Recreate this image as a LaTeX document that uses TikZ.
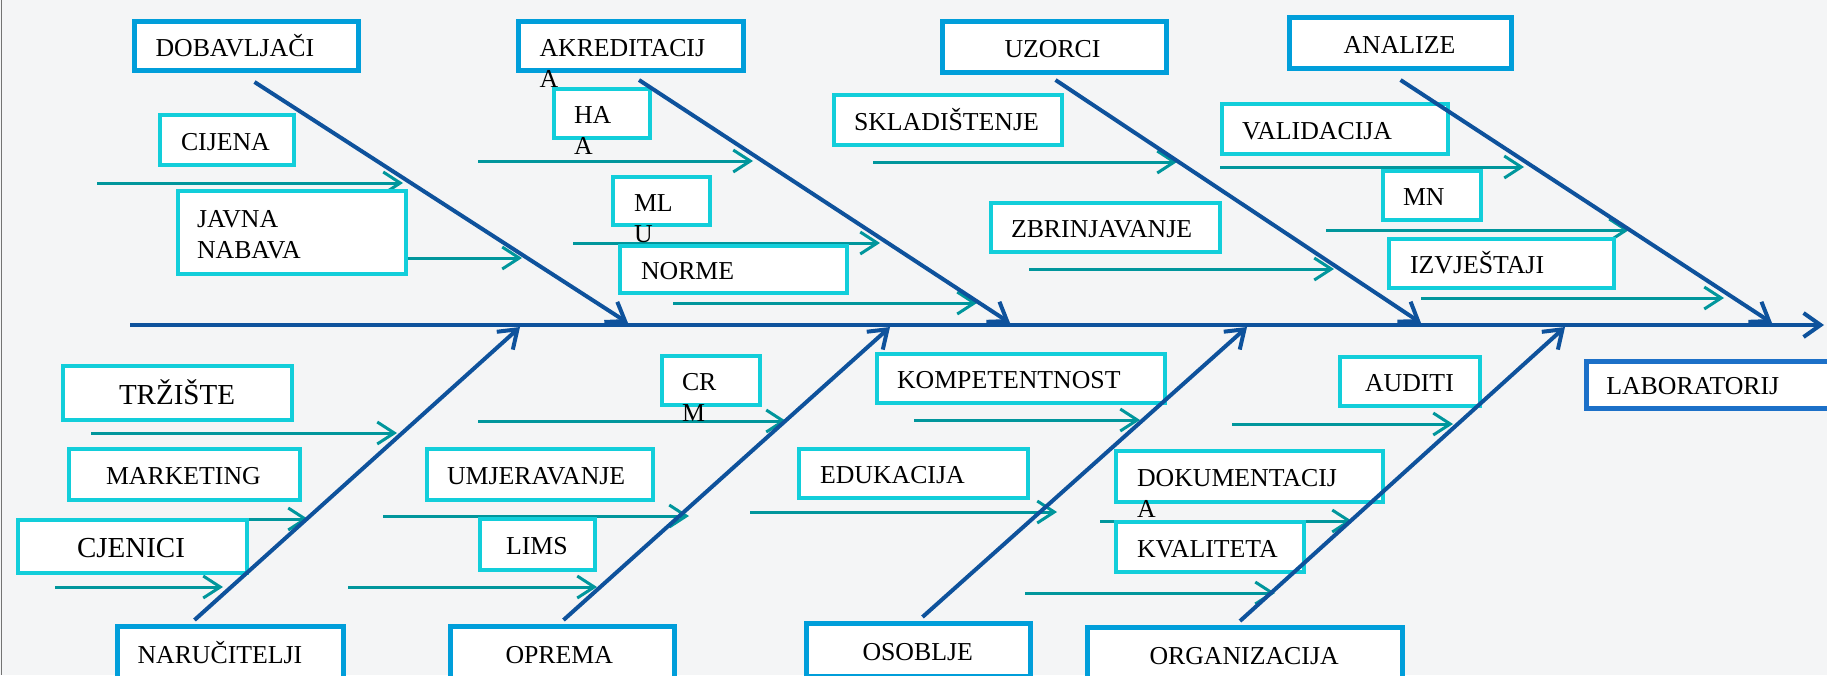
\documentclass[tikz,border=0pt]{standalone}
\usepackage{fontspec}
\setmainfont{Liberation Serif}
\usepackage{tikz}
\usetikzlibrary{arrows.meta}
\definecolor{bggray}{RGB}{244,245,246}
\definecolor{catblue}{RGB}{0,158,218}
\definecolor{labblue}{RGB}{28,112,200}
\definecolor{subcyan}{RGB}{18,206,218}
\definecolor{twigteal}{RGB}{0,150,156}
\definecolor{bonecol}{RGB}{14,82,156}
\newcommand{\labfont}{\fontsize{25.8pt}{31pt}\selectfont}
\newcommand{\bigfont}{\fontsize{29pt}{35pt}\selectfont}
\newcommand{\spill}[2]{\rlap{\smash{\raisebox{-31pt}{#2}}}#1}
\hyphenpenalty=10000

\tikzset{
  catbox/.style={draw=catblue, line width=5pt, fill=white, anchor=north west, inner ysep=0pt, align=left, text height=20pt, text depth=0pt, font=\labfont},
  subbox/.style={draw=subcyan, line width=4pt, fill=white, anchor=north west, inner ysep=0pt, align=left, text height=20pt, text depth=0pt, font=\labfont},
  bone/.style={draw=bonecol, line width=4pt, -{Straight Barb[length=17pt,width=24pt]}},
  twig/.style={draw=twigteal, line width=3pt, -{Straight Barb[length=17pt,width=22pt]}}
}

\begin{document}
\begin{tikzpicture}[x=1pt, y=-1pt]
    \useasboundingbox (0,0) rectangle (1827,675);
    \fill[bggray] (0,0) rectangle (1827,675);
    \draw[black!55, line width=1.5pt] (1.5,0) -- (1.5,675);

    % Twig ends
    \coordinate (cij1) at (97,183);    \coordinate (cij2) at (403,183);
    \coordinate (jav1) at (406,258);   \coordinate (jav2) at (522,258);
    \coordinate (ha1) at (478,161);    \coordinate (ha2) at (753,161);
    \coordinate (ml1) at (573,243);    \coordinate (ml2) at (880,243);
    \coordinate (nor1) at (673,303);   \coordinate (nor2) at (977,303);
    \coordinate (skl1) at (873,162);   \coordinate (skl2) at (1177,162);
    \coordinate (zbr1) at (1029,269);  \coordinate (zbr2) at (1334,269);
    \coordinate (val1) at (1220,167);  \coordinate (val2) at (1524,167);
    \coordinate (mn1) at (1326,230);   \coordinate (mn2) at (1629,230);
    \coordinate (izv1) at (1421,298);  \coordinate (izv2) at (1724,298);
    \coordinate (trz1) at (91,433);    \coordinate (trz2) at (397,433);
    \coordinate (mar1) at (91,519);    \coordinate (mar2) at (308,519);
    \coordinate (cje1) at (55,587);    \coordinate (cje2) at (223,587);
    \coordinate (crm1) at (478,421);   \coordinate (crm2) at (786,421);
    \coordinate (umj1) at (383,516);   \coordinate (umj2) at (689,516);
    \coordinate (lim1) at (348,587);   \coordinate (lim2) at (597,587);
    \coordinate (kom1) at (914,420);   \coordinate (kom2) at (1140,420);
    \coordinate (edu1) at (750,512);   \coordinate (edu2) at (1057,512);
    \coordinate (dok1) at (1100,521);  \coordinate (dok2) at (1352,521);
    \coordinate (kva1) at (1025,593);  \coordinate (kva2) at (1275,593);
    \coordinate (aud1) at (1232,424);  \coordinate (aud2) at (1453,424);

    % Twigs
    \draw[twig] (cij1) -- (cij2);
    \draw[twig] (jav1) -- (jav2);
    \draw[twig] (ha1) -- (ha2);
    \draw[twig] (ml1) -- (ml2);
    \draw[twig] (nor1) -- (nor2);
    \draw[twig] (skl1) -- (skl2);
    \draw[twig] (zbr1) -- (zbr2);
    \draw[twig] (val1) -- (val2);
    \draw[twig] (mn1) -- (mn2);
    \draw[twig] (izv1) -- (izv2);
    \draw[twig] (trz1) -- (trz2);
    \draw[twig] (mar1) -- (mar2);
    \draw[twig] (cje1) -- (cje2);
    \draw[twig] (crm1) -- (crm2);
    \draw[twig] (umj1) -- (umj2);
    \draw[twig] (lim1) -- (lim2);
    \draw[twig] (kom1) -- (kom2);
    \draw[twig] (edu1) -- (edu2);
    \draw[twig] (dok1) -- (dok2);
    \draw[twig] (kva1) -- (kva2);
    \draw[twig] (aud1) -- (aud2);

    % Categories (top)
    \node[catbox, text width=182pt, inner xsep=21pt, minimum height=49pt] (dob) at (132,19) {DOBAVLJAČI};
    \node[catbox, text width=183pt, inner xsep=21pt, minimum height=49pt] (akr) at (516,19) {\spill{AKREDITACIJ}{A}};
    \node[catbox, text width=100pt, inner xsep=62pt, minimum height=51pt] (uzo) at (940,19) {UZORCI};
    \node[catbox, text width=114pt, inner xsep=54pt, minimum height=51pt] (ana) at (1287,15) {ANALIZE};

    % Categories (bottom)
    \node[catbox, text width=186pt, inner xsep=20pt, minimum height=53pt] (nar) at (115,624) {NARUČITELJI};
    \node[catbox, text width=114pt, inner xsep=55pt, minimum height=53pt] (opr) at (448,624) {OPREMA};
    \node[catbox, text width=112pt, inner xsep=56pt, minimum height=53pt] (oso) at (804,621) {OSOBLJE};
    \node[catbox, text width=191pt, inner xsep=62pt, minimum height=53pt] (org) at (1085,625) {ORGANIZACIJA};

    % Effect
    \node[catbox, draw=labblue, line width=4.5pt, text width=260pt, inner xsep=20pt, minimum height=47pt] (lab) at (1584,359) {LABORATORIJ};

    % Sub-causes (top)
    \node[subbox, text width=92pt, inner xsep=21pt, minimum height=50pt] (cij) at (158,113) {CIJENA};
    \node[subbox, text width=190pt, inner xsep=19pt, minimum height=83pt, text depth=31pt] (jav) at (176,189) {JAVNA\\NABAVA};
    \node[subbox, text width=56pt, inner xsep=20pt, minimum height=49pt] (ha) at (552,87) {\spill{HA}{A}};
    \node[subbox, text width=55pt, inner xsep=21pt, minimum height=48pt] (ml) at (611,175) {\spill{ML}{U}};
    \node[subbox, text width=185pt, inner xsep=21pt, minimum height=47pt] (nor) at (618,244) {NORME};
    \node[subbox, text width=188pt, inner xsep=20pt, minimum height=50pt] (skl) at (832,93) {SKLADIŠTENJE};
    \node[subbox, text width=189pt, inner xsep=20pt, minimum height=49pt] (zbr) at (989,201) {ZBRINJAVANJE};
    \node[subbox, text width=186pt, inner xsep=20pt, minimum height=50pt] (val) at (1220,102) {VALIDACIJA};
    \node[subbox, text width=58pt, inner xsep=20pt, minimum height=49pt] (mn) at (1381,169) {MN};
    \node[subbox, text width=183pt, inner xsep=21pt, minimum height=49pt] (izv) at (1387,237) {IZVJEŠTAJI};

    % Sub-causes (bottom)
    \node[subbox, font=\bigfont, text height=22pt, text width=117pt, inner xsep=56pt, minimum height=54pt] (trz) at (61,364) {TRŽIŠTE};
    \node[subbox, text width=157pt, inner xsep=37pt, minimum height=51pt] (mar) at (67,447) {MARKETING};
    \node[subbox, font=\bigfont, text height=22pt, text width=111pt, inner xsep=59pt, minimum height=53pt] (cje) at (16,518) {CJENICI};
    \node[subbox, text width=186pt, inner xsep=20pt, minimum height=51pt] (umj) at (425,447) {UMJERAVANJE};
    \node[subbox, text width=63pt, inner xsep=26pt, minimum height=51pt] (lim) at (478,517) {LIMS};
    \node[subbox, text width=58pt, inner xsep=20pt, minimum height=49pt] (crm) at (660,354) {\spill{CR}{M}};
    \node[subbox, text width=248pt, inner xsep=20pt, minimum height=49pt] (kom) at (875,352) {KOMPETENTNOST};
    \node[subbox, text width=187pt, inner xsep=21pt, minimum height=49pt] (edu) at (797,447) {EDUKACIJA};
    \node[subbox, text width=225pt, inner xsep=21pt, minimum height=51pt] (dok) at (1114,449) {\spill{DOKUMENTACIJ}{A}};
    \node[subbox, text width=146pt, inner xsep=21pt, minimum height=50pt] (kva) at (1114,520) {KVALITETA};
    \node[subbox, text width=90pt, inner xsep=25pt, minimum height=49pt] (aud) at (1338,355) {AUDITI};

    % Spine
    \coordinate (tail) at (130,325);
    \coordinate (head) at (1824,325);
    \draw[bone] (tail) -- (head);

    % Bones
    \coordinate (h1) at (628,323);
    \coordinate (h2) at (1010,323);
    \coordinate (h3) at (1421,323);
    \coordinate (h4) at (1772,323);
    \coordinate (h5) at (520,327);
    \coordinate (h6) at (890,327);
    \coordinate (h7) at (1247,327);
    \coordinate (h8) at (1565,327);

    \draw[bone] ([shift={(8,9)}]dob.south) -- (h1);
    \draw[bone] ([shift={(8,7)}]akr.south) -- (h2);
    \draw[bone] ([shift={(1,5)}]uzo.south) -- (h3);
    \draw[bone] ([shift={(0,9)}]ana.south) -- (h4);
    \draw[bone] ([shift={(-36,-4)}]nar.north) -- (h5);
    \draw[bone] ([shift={(1,-4)}]opr.north) -- (h6);
    \draw[bone] ([shift={(4,-4)}]oso.north) -- (h7);
    \draw[bone] ([shift={(-5,-4)}]org.north) -- (h8);

\end{tikzpicture}
\end{document}
